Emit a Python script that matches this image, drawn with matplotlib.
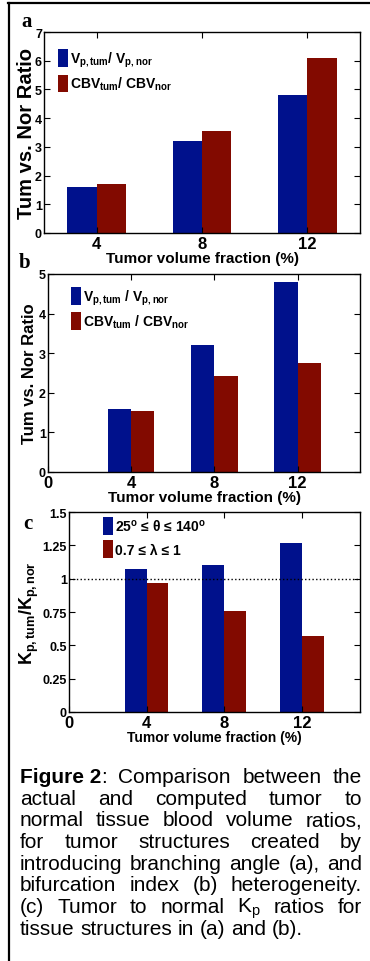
import matplotlib
matplotlib.use("Agg")
import matplotlib.pyplot as plt
from matplotlib.lines import Line2D
import numpy as np

plt.rcParams['font.family'] = ['Liberation Sans', 'DejaVu Sans']
plt.rcParams['mathtext.fontset'] = 'custom'
plt.rcParams['mathtext.rm'] = 'Liberation Sans'
plt.rcParams['mathtext.bf'] = 'Liberation Sans:bold'
plt.rcParams['mathtext.it'] = 'Liberation Sans:italic'

# data
fractions = [4, 8, 12]
a_vp = [1.6, 3.2, 4.8]
a_cbv = [1.72, 3.55, 6.1]
b_vp = [1.6, 3.2, 4.8]
b_cbv = [1.55, 2.43, 2.75]
c_theta = [1.07, 1.1, 1.27]
c_lambda = [0.97, 0.76, 0.57]

lab_vp = r"V$_{\mathbf{p,tum}}$/ V$_{\mathbf{p,nor}}$"
lab_cbv = r"CBV$_{\mathbf{tum}}$/ CBV$_{\mathbf{nor}}$"
lab_vp_b = r"V$_{\mathbf{p,tum}}$ / V$_{\mathbf{p,nor}}$"
lab_cbv_b = r"CBV$_{\mathbf{tum}}$ / CBV$_{\mathbf{nor}}$"
lab_theta = r"25$^{\mathbf{o}}$ ≤ θ ≤ 140$^{\mathbf{o}}$"
lab_lambda = r"0.7 ≤ λ ≤ 1"

caption = [
    [[("Figure 2", "bold"), (":", "normal")], [("Comparison", "normal")],
     [("between", "normal")], [("the", "normal")]],
    "actual and computed tumor to",
    "normal tissue blood volume ratios,",
    "for tumor structures created by",
    "introducing branching angle (a), and",
    "bifurcation index (b) heterogeneity.",
    r"(c) Tumor to normal K$_{\mathrm{p}}$ ratios for",
    "tissue structures in (a) and (b).",
]

BLUE = '#00118c'
RED = '#820a00'
W, H = 370, 962
fig = plt.figure(figsize=(W / 100, H / 100), dpi=100)


def box(l, t, r, b):
    return [l / W, 1 - b / H, (r - l) / W, (b - t) / H]


def style(ax, xs, ys):
    ax.tick_params(direction='in', top=True, right=True, length=4, width=0.8)
    ax.tick_params(axis='x', labelsize=xs, pad=2)
    ax.tick_params(axis='y', labelsize=ys, pad=1.5)
    for lbl in ax.get_xticklabels() + ax.get_yticklabels():
        lbl.set_fontweight('bold')
    for s in ax.spines.values():
        s.set_linewidth(1.0)


def panel(rect, s1, s2, l1, l2, xlim, xticks, ylim, yticks, leg_anchor, xls):
    ax = fig.add_axes(box(*rect))
    x = np.array(fractions, dtype=float)
    w = 1.12
    h1 = ax.bar(x - w / 2, s1, w, color=BLUE, label=l1)
    h2 = ax.bar(x + w / 2, s2, w, color=RED, label=l2)
    ax.set_xlim(*xlim)
    ax.set_xticks(xticks)
    ax.set_ylim(*ylim)
    ax.set_yticks(yticks)
    style(ax, 12, 9)
    ax.set_xlabel("Tumor volume fraction (%)", fontsize=xls, fontweight='bold', labelpad=0)
    ax.legend(handles=[h1, h2], loc='upper left', bbox_to_anchor=leg_anchor,
              frameon=False, prop={'weight': 'bold', 'size': 10},
              handlelength=0.72, handleheight=1.6, handletextpad=0.15,
              labelspacing=0.4, borderpad=0, borderaxespad=0)
    return ax


def ylab(ax, text, fs, cx, left, width):
    ax.set_ylabel(text, fontsize=fs, fontweight='bold')
    ax.yaxis.set_label_coords((cx - left) / width, 0.5)
    ax.yaxis.label.set_verticalalignment('center')


ax_a = panel((44, 33, 360, 234), a_vp, a_cbv, lab_vp, lab_cbv, (2, 14), fractions,
             (0, 7), range(0, 8), (0.045, 0.915), 11)
ylab(ax_a, "Tum vs. Nor Ratio", 14.5, 27, 44, 316)

ax_b = panel((48, 275, 360, 473), b_vp, b_cbv, lab_vp_b, lab_cbv_b, (0, 15),
             [0] + fractions, (0, 5), range(0, 6), (0.074, 0.935), 11)
ylab(ax_b, "Tum vs. Nor Ratio", 12, 30, 48, 312)

ax_c = panel((69, 513, 360, 713), c_theta, c_lambda, lab_theta, lab_lambda, (0, 15),
             [0] + fractions, (0, 1.5), [0, 0.25, 0.5, 0.75, 1, 1.25, 1.5],
             (0.117, 0.975), 10)
ax_c.set_yticklabels(['0', '0.25', '0.5', '0.75', '1', '1.25', '1.5'])
for lbl in ax_c.get_yticklabels():
    lbl.set_fontweight('bold')
ax_c.axhline(1, color='black', linestyle=':', linewidth=1)
ylab(ax_c, r"K$_{\mathbf{p,tum}}$/K$_{\mathbf{p,nor}}$", 13, 29, 69, 291)

for lbl, (px, py) in zip("abc", [(27, 22), (25, 263), (28, 524)]):
    fig.text(px / W, 1 - py / H, lbl, family='Liberation Serif', fontweight='bold',
             fontsize=15, ha='center', va='center')

# frame lines (top and left only)
fig.add_artist(Line2D([8 / W, 1], [1 - 4 / H, 1 - 4 / H], color='black', lw=1.6))
fig.add_artist(Line2D([9 / W, 9 / W], [0, 1 - 4 / H], color='black', lw=1.6))

# justified caption
fig.canvas.draw()
rend = fig.canvas.get_renderer()


def tw(txt, wt, fs):
    t = fig.text(0, 0, txt, fontsize=fs, fontweight=wt)
    w = t.get_window_extent(rend).width
    t.remove()
    return w


left, right = 20, 362
base0 = 783
step = 21.7
fs = 15
space = tw("a a", 'normal', fs) - tw("aa", 'normal', fs)
for i, line in enumerate(caption):
    y = 1 - (base0 + i * step) / H
    if isinstance(line, str):
        words = [[(wd, 'normal')] for wd in line.split(' ')]
    else:
        words = line
    widths = [sum(tw(txt, wt, fs) for txt, wt in wd) for wd in words]
    if i == len(caption) - 1:
        gap = space
    else:
        gap = (right - left - sum(widths)) / (len(words) - 1)
    x = left
    for wd, wdt in zip(words, widths):
        xx = x
        for txt, wt in wd:
            fig.text(xx / W, y, txt, fontsize=fs, fontweight=wt, va='baseline')
            xx += tw(txt, wt, fs)
        x += wdt + gap

fig.savefig("out.png", dpi=100)
